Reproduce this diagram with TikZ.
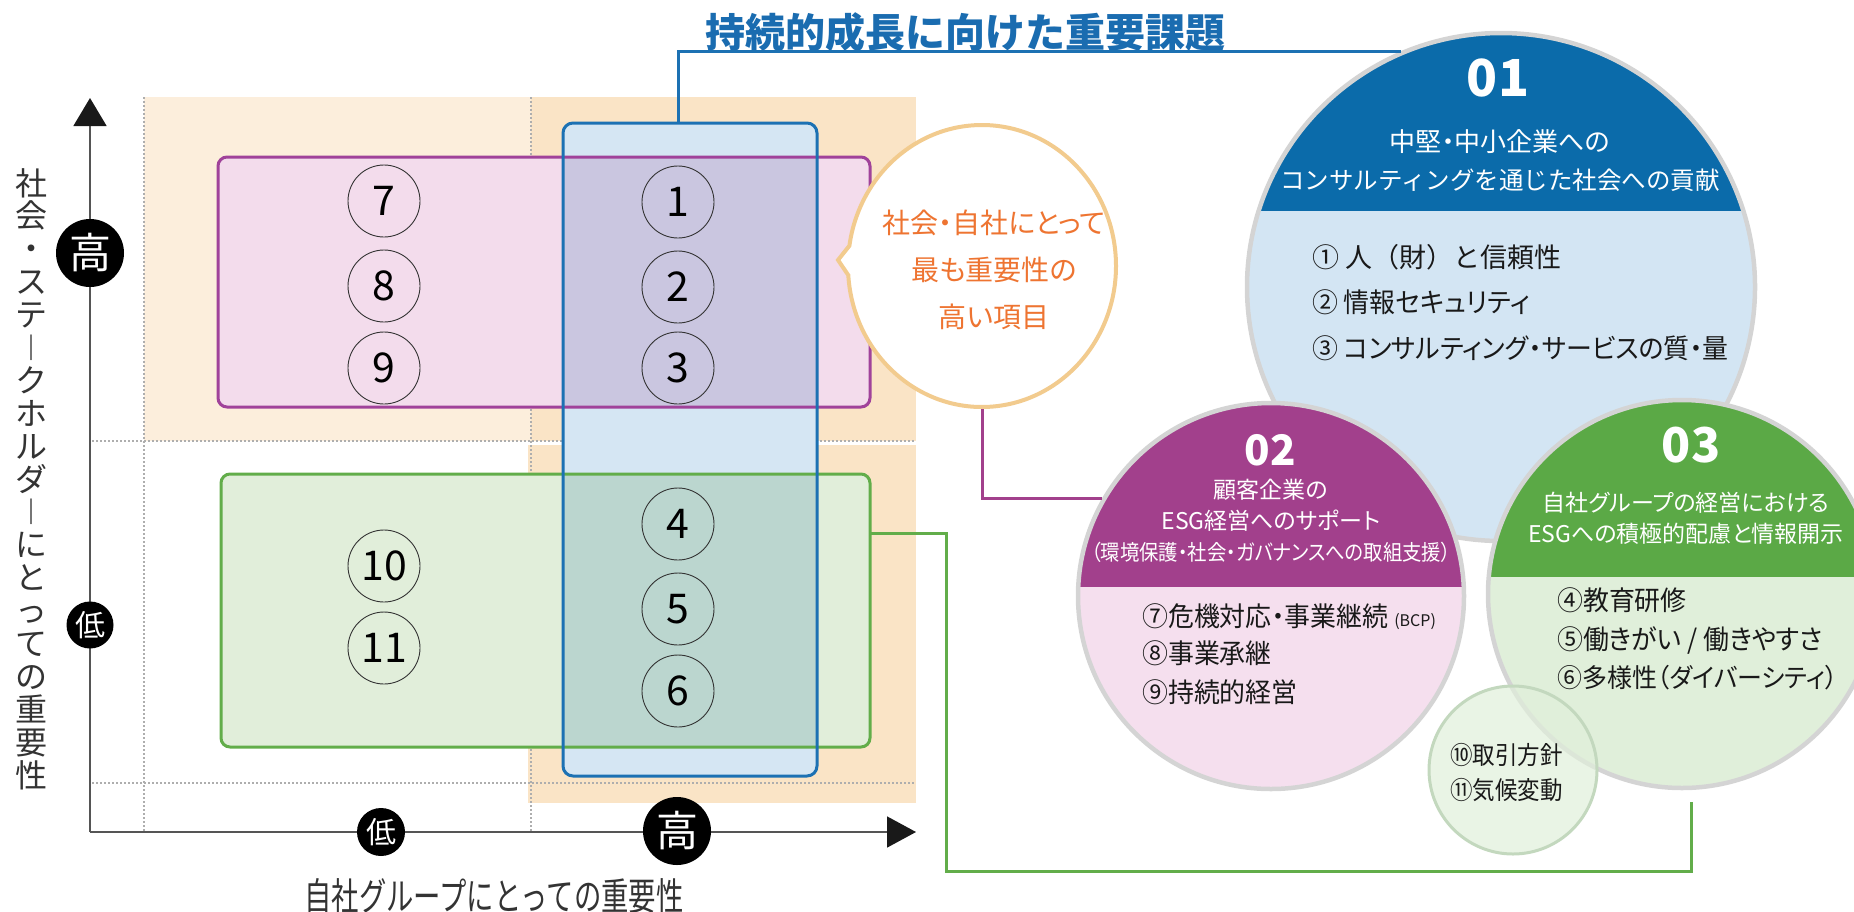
\documentclass[tikz,border=0pt]{standalone}
\usepackage{graphicx}
\usepackage{fontspec}
\usetikzlibrary{shapes.geometric,shapes.callouts,calc,arrows.meta}
\setmainfont{Noto Sans CJK JP}
\newfontfamily\jp{Noto Sans CJK JP}
\newfontfamily\jpp[RawFeature=+palt]{Noto Sans CJK JP}
\newfontfamily\jppc[RawFeature=+palt,FakeStretch=0.9]{Noto Sans CJK JP}
\newfontfamily\jppd[RawFeature=+palt,FakeStretch=0.96]{Noto Sans CJK JP}
\newfontfamily\jpcc[FakeStretch=0.72]{Noto Sans CJK JP}
\newcommand\fs[1]{\fontsize{#1}{#1}\selectfont}
\newcommand\vbar{\raisebox{2.5pt}{\scalebox{1}[0.8]{｜}}}
\definecolor{orA}{HTML}{FAE4C6}
\definecolor{orB}{HTML}{FCEEDC}
\definecolor{pbd}{HTML}{A0429A}
\definecolor{pfl}{HTML}{F3DCEC}
\definecolor{bbd}{HTML}{1C71B3}
\definecolor{bfl}{HTML}{D5E6F3}
\definecolor{gbd}{HTML}{62AD4A}
\definecolor{gfl}{HTML}{E1EEDA}
\definecolor{ttl}{HTML}{1A6CB0}
\definecolor{capA}{HTML}{0B6BAA}
\definecolor{lowA}{HTML}{D3E5F3}
\definecolor{capB}{HTML}{A2408C}
\definecolor{lowB}{HTML}{F5DFEE}
\definecolor{capC}{HTML}{5BA946}
\definecolor{lowC}{HTML}{E0EFDA}
\definecolor{ring}{HTML}{D4D4D4}
\definecolor{ringg}{HTML}{C3D8BE}
\definecolor{bubo}{HTML}{F2CB8E}
\definecolor{orgtxt}{HTML}{EE7431}
\definecolor{gridc}{HTML}{AEAEAE}
\definecolor{axc}{HTML}{555555}
\definecolor{txg}{HTML}{333333}
\tikzset{
  gridline/.style={gridc, line width=1.2pt, dash pattern=on 1.5pt off 2.5pt},
  numc/.style={circle, draw=txg, line width=0.9pt, minimum size=72pt, inner sep=0, font=\jp\fs{41}, text=black},
  bk/.style={circle, fill=black, text=white, inner sep=0},
  axisline/.style={axc, line width=1.6pt},
  wt/.style={text=white, inner sep=0},
  item/.style={text=black!90, inner sep=0, anchor=west},
  conn/.style={line width=3pt},
  bigc/.style={circle, inner sep=0, draw=ring, line width=4.5pt},
}
\begin{document}
\begin{tikzpicture}[x=1pt,y=-1pt]
\useasboundingbox (0,0) rectangle (1854,911);
\clip (0,0) rectangle (1854,911);
% orange background
\fill[orB] (144,97) rectangle (531,441);
\fill[orA] (531,97) rectangle (916,441);
\fill[orA] (528,445) rectangle (916,803);
% grid
\draw[gridline] (144,97) -- (144,832);
\draw[gridline] (531,97) -- (531,832);
\draw[gridline] (92,441) -- (916,441);
\draw[gridline] (92,783) -- (916,783);
% box fills
\fill[white, rounded corners=9pt] (218,157) rectangle (870,407);
\fill[white, rounded corners=9pt] (221,474) rectangle (870,747);
\fill[bfl, rounded corners=10pt] (563,123) rectangle (817,776);
\begin{scope}[blend mode=multiply]
\fill[pfl, rounded corners=9pt] (218,157) rectangle (870,407);
\fill[gfl, rounded corners=9pt] (221,474) rectangle (870,747);
\end{scope}
% box borders
\node[draw=pbd, line width=3pt, rounded corners=9pt, minimum width=652pt, minimum height=250pt, inner sep=0] (pbox) at (544,282) {};
\node[draw=gbd, line width=3pt, rounded corners=9pt, minimum width=649pt, minimum height=273pt, inner sep=0] (gbox) at (545.5,610.5) {};
\node[draw=bbd, line width=3pt, rounded corners=10pt, minimum width=254pt, minimum height=653pt, inner sep=0] (bbox) at (690,449.5) {};
% numbered circles
\foreach \n/\x/\y in {7/384/201, 8/384/286, 9/384/368, 1/678/202, 2/678/287, 3/678/368, 4/678/524, 5/678/609, 6/678/691, 10/384/566, 11/384/648}
  \node[numc] (n\n) at (\x,\y) {\n};
% axes
\coordinate (O) at (90,832);
\coordinate (ytop) at (90,98);
\coordinate (xend) at (916,832);
\draw[axisline, -{Triangle[length=28pt,width=33pt,color=black!90]}] (O) -- (ytop);
\draw[axisline, -{Triangle[length=29pt,width=31pt,color=black!90]}] (O) -- (xend);
\node[bk, minimum size=68pt, font=\jp\fs{42}] (yhi) at (90,253) {高};
\node[bk, minimum size=47pt, font=\jp\fs{30}] (ylo) at (90,625) {低};
\node[bk, minimum size=68pt, font=\jp\fs{42}] (xhi) at (677,831) {高};
\node[bk, minimum size=48pt, font=\jp\fs{30}] (xlo) at (381,832) {低};
% axis labels
\node[font=\jp\fontsize{32}{32.9}\selectfont, text=txg, align=center, inner sep=0, anchor=north] (ylab) at (31,168) {社\\会\\・\\ス\\テ\\\vbar\\ク\\ホ\\ル\\ダ\\\vbar\\に\\と\\っ\\て\\の\\重\\要\\性};
\node[font=\jpcc\fs{38}, text=txg, anchor=base, inner sep=0] (xlab) at (494,910) {自社グループにとっての重要性};
% title
\node[font=\jp\bfseries\fs{40}, text=ttl, inner sep=0] (title) at (965,32) {持続的成長に向けた重要課題};
% speech bubble
\node[ellipse callout, callout absolute pointer={(838,260)}, callout pointer arc=12, minimum width=268pt, minimum height=282pt, fill=white, draw=bubo, line width=4pt, inner sep=0] (bub) at (982,266) {};
\node[font=\jpp\fontsize{28}{47}\selectfont, text=orgtxt, align=center, inner sep=0] (bubtxt) at (994,270) {社会・自社にとって\\最も重要性の\\高い項目};
% big circles
\node[bigc, minimum size=508pt, fill=lowA, path picture={\fill[capA] (path picture bounding box.north west) rectangle ($(path picture bounding box.north east)+(0,178)$);}] (c01) at (1501,287) {};
\node[bigc, minimum size=386pt, fill=lowB, path picture={\fill[capB] (path picture bounding box.north west) rectangle ($(path picture bounding box.north east)+(0,184)$);}] (c02) at (1271,596) {};
\node[bigc, minimum size=388pt, fill=lowC, path picture={\fill[capC] (path picture bounding box.north west) rectangle ($(path picture bounding box.north east)+(0,177)$);}] (c03) at (1682,594) {};
\node[circle, inner sep=0, minimum size=168pt, fill=lowC, fill opacity=0.7, draw=ringg, line width=3pt] (c04) at (1513,770) {};
% circle 01 texts
\node[wt, font=\jp\bfseries\fs{51}] (t01) at (1498,78) {01};
\node[wt, font=\jp\fontsize{24.5}{38}\selectfont, align=center] (t01a) at (1500,161) {{\jpp\fontsize{26}{38}\selectfont 中堅・中小企業への}\\コンサルティングを通じた社会への貢献};
\node[item, font=\jp\fs{27}] (i1) at (1312,257) {① 人（財）と信頼性};
\node[item, font=\jppd\fs{27}] (i2) at (1312,302) {② 情報セキュリティ};
\node[item, font=\jppd\fs{27}] (i3) at (1312,348) {③ コンサルティング・サービスの質・量};
% circle 02 texts
\node[wt, font=\jp\bfseries\fs{42}] (t02) at (1270,450) {02};
\node[wt, font=\jpp\fontsize{23}{31}\selectfont, align=center] (t02a) at (1271,521) {顧客企業の\\ESG経営へのサポート\\{\jppc\fs{21.5}（環境保護・社会・ガバナンスへの取組支援）}};
\node[item, font=\jppd\fs{27}] (i7) at (1142,617) {⑦危機対応・事業継続 {\jp\fs{16}(BCP)}};
\node[item, font=\jppd\fs{27}] (i8) at (1142,653) {⑧事業承継};
\node[item, font=\jppd\fs{27}] (i9) at (1142,692) {⑨持続的経営};
% circle 03 texts
\node[wt, font=\jp\bfseries\fs{48}] (t03) at (1691,445) {03};
\node[wt, font=\jpp\fontsize{23}{31}\selectfont, align=center] (t03a) at (1686,518) {自社グループの経営における\\ESGへの積極的配慮と情報開示};
\node[item, font=\jppd\fs{27}] (i4) at (1557,600) {④教育研修};
\node[item, font=\jppd\fs{27}] (i5) at (1557,640) {⑤働きがい / 働きやすさ};
\node[item, font=\jppd\fs{26}] (i6) at (1557,678) {⑥多様性（ダイバーシティ）};
% small circle texts
\node[item, font=\jppc\fs{25}] (i10) at (1450,755) {⑩取引方針};
\node[item, font=\jppc\fs{25}] (i11) at (1450,790) {⑪気候変動};
% connectors
\draw[conn, bbd] (n1 |- bbox.north) -- (n1 |- c01.113) -- (c01.113);
\draw[conn, capB] (bub.south) -- (bub.south |- c02.150) -- (c02.150);
\coordinate (gA) at (870,533);
\coordinate (gZ) at (1691,802);
\draw[conn, gbd] (gA) -| (946,871) -| (gZ);
\end{tikzpicture}
\end{document}
